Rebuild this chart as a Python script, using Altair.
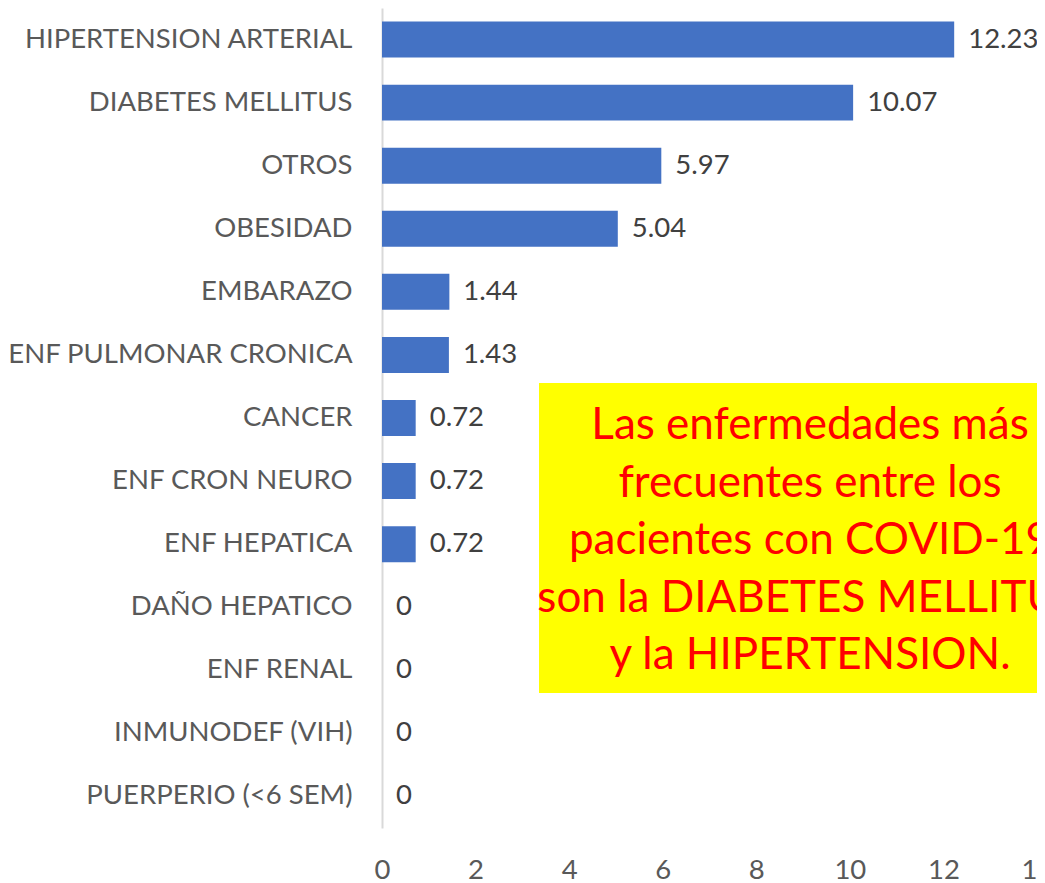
import altair as alt
import pandas as pd

categories = ["HIPERTENSION ARTERIAL", "DIABETES MELLITUS", "OTROS", "OBESIDAD",
              "EMBARAZO", "ENF PULMONAR CRONICA", "CANCER", "ENF CRON NEURO",
              "ENF HEPATICA", "DAÑO HEPATICO", "ENF RENAL", "INMUNODEF (VIH)",
              "PUERPERIO (<6 SEM)"]
values = [12.23, 10.07, 5.97, 5.04, 1.44, 1.43, 0.72, 0.72, 0.72, 0, 0, 0, 0]
x_ticks = [0, 2, 4, 6, 8, 10, 12, 14]
note_lines = ["Las enfermedades más", "frecuentes entre los",
              "pacientes con COVID-19", "son la DIABETES MELLITUS",
              "y la HIPERTENSION."]

df = pd.DataFrame({"cat": categories, "val": values,
                   "label": [f"{v:g}" for v in values]})

FONT = "Lato"
W, H = 655, 820

y_enc = alt.Y("cat:N", sort=categories,
              scale=alt.Scale(paddingInner=0.43, paddingOuter=0.215),
              axis=alt.Axis(title=None, ticks=False, labelFont=FONT, labelFontSize=27.5,
                            labelColor="#595959", labelPadding=30, labelLimit=500,
                            domainColor="#d9d9d9", domainWidth=2))
x_enc = alt.X("val:Q", scale=alt.Scale(domain=[0, 14], nice=False),
              axis=alt.Axis(title=None, values=x_ticks, grid=False, ticks=False, domain=False,
                            labelFont=FONT, labelFontSize=27.5, labelColor="#595959",
                            labelPadding=28, labelFlush=False))

bars = alt.Chart(df).mark_bar(color="#4472C4").encode(x=x_enc, y=y_enc)
vals = alt.Chart(df).mark_text(align="left", baseline="middle", dx=14, font=FONT,
                               fontSize=27.5, color="#404040").encode(
    x="val:Q", y=alt.Y("cat:N", sort=categories), text="label:N")

box = alt.Chart(pd.DataFrame({"a": [0]})).mark_rect(color="#FFFF00").encode(
    x=alt.value(157), x2=alt.value(700), y=alt.value(375), y2=alt.value(685))
note = alt.Chart(pd.DataFrame({"a": [0]})).mark_text(
    text=note_lines, lineHeight=57.5, font=FONT, fontSize=44, color="#FF0000",
    align="center", baseline="middle").encode(x=alt.value(428), y=alt.value(418))

chart = alt.layer(bars, vals, box, note).properties(
    width=W, height=H,
    autosize=alt.AutoSizeParams(type="none"),
    padding={"left": 374, "top": 0, "right": 0, "bottom": 58},
).configure_view(stroke=None)

chart.save("out.html", embed_options={"renderer": "svg", "actions": False})
